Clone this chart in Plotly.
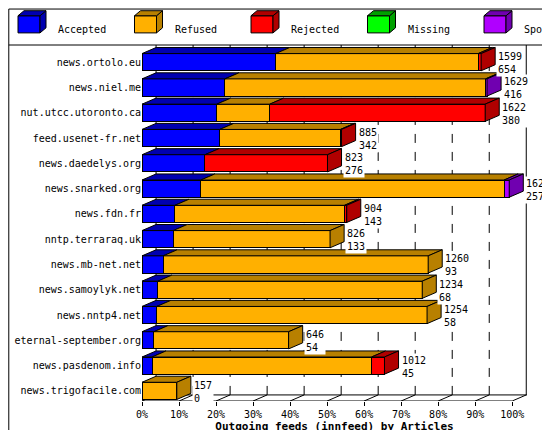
import plotly.graph_objects as go

hosts = ['news.ortolo.eu', 'news.niel.me', 'nut.utcc.utoronto.ca', 'feed.usenet-fr.net',
         'news.daedelys.org', 'news.snarked.org', 'news.fdn.fr', 'nntp.terraraq.uk',
         'news.mb-net.net', 'news.samoylyk.net', 'news.nntp4.net', 'eternal-september.org',
         'news.pasdenom.info', 'news.trigofacile.com']
# segment widths in % of the axis
accepted = [36.1, 22.4, 20.2, 21.0, 17.0, 15.9, 8.9, 8.4, 5.7, 4.3, 4.0, 3.2, 2.7, 0]
refused = [54.7, 70.4, 14.3, 32.6, 0, 81.9, 45.8, 42.4, 71.6, 71.4, 73.0, 36.4, 59.3, 9.4]
rejected = [0.8, 0, 58.2, 0.3, 33.1, 0, 0.6, 0, 0, 0, 0, 0, 3.5, 0]
missing = [0] * 14
spooled = [0, 0.4, 0, 0, 0, 1.4, 0, 0, 0, 0, 0, 0, 0, 0]
total = [1599, 1629, 1622, 885, 823, 1620, 904, 826, 1260, 1234, 1254, 646, 1012, 157]
n_acc = [654, 416, 380, 342, 276, 257, 143, 133, 93, 68, 58, 54, 45, 0]

series = [('Accepted', accepted, '#0000ff', '#0000b0'),
          ('Refused', refused, '#ffb000', '#b88000'),
          ('Rejected', rejected, '#ff0000', '#b00000'),
          ('Missing', missing, '#00ff00', '#00a000'),
          ('Spooled', spooled, '#b000ff', '#7000b0')]

DX, DY, H = 3.8, 0.24, 0.34
FONT = 'DejaVu Sans Mono'
ypos = list(range(len(hosts)))

fig = go.Figure()
shapes = []
for name, vals, col, dark in series:
    fig.add_trace(go.Bar(y=ypos, x=vals, orientation='h', name=name, width=2 * H,
                         marker=dict(color=col, line=dict(color='black', width=1))))

# 3d faces, built from the data
for i in ypos:
    start = 0
    last_dark = None
    for name, vals, col, dark in series:
        w = vals[i]
        if w <= 0:
            continue
        x0, x1 = start, start + w
        yt = i - H
        shapes.append(dict(type='path', xref='x', yref='y', fillcolor=dark,
                           line=dict(color='black', width=1),
                           path=f'M{x0},{yt} L{x1},{yt} L{x1+DX},{yt-DY} L{x0+DX},{yt-DY} Z'))
        start = x1
        last_dark = dark
    if last_dark:
        shapes.append(dict(type='path', xref='x', yref='y', fillcolor=last_dark,
                           line=dict(color='black', width=1),
                           path=f'M{start},{i-H} L{start},{i+H} L{start+DX},{i+H-DY} L{start+DX},{i-H-DY} Z'))
    fig.add_annotation(x=start + DX, y=i, text=f'{total[i]}<br>{n_acc[i]}', xanchor='left',
                       showarrow=False, xshift=1, yshift=-1, align='left', bgcolor='white',
                       font=dict(family=FONT, size=10, color='black'))

# back grid lines and walls
ybot = len(hosts) - 1 + 0.4
for p in range(10, 100, 10):
    shapes.append(dict(type='line', xref='x', yref='y', x0=p + DX, x1=p + DX, y0=ybot - DY, y1=-0.7,
                       line=dict(color='black', width=1, dash='dash'), layer='below'))
    shapes.append(dict(type='line', xref='x', yref='y', x0=p, x1=p + DX, y0=ybot, y1=ybot - DY,
                       line=dict(color='black', width=1), layer='below'))
for p in (0, 100):
    shapes.append(dict(type='line', xref='x', yref='y', x0=p + DX, x1=p + DX, y0=ybot - DY, y1=-0.7,
                       line=dict(color='black', width=1), layer='below'))
    shapes.append(dict(type='line', xref='x', yref='y', x0=p, x1=p + DX, y0=ybot, y1=ybot - DY,
                       line=dict(color='black', width=1), layer='below'))
shapes.append(dict(type='line', xref='x', yref='y', x0=DX, x1=108, y0=ybot - DY, y1=ybot - DY,
                   line=dict(color='black', width=1), layer='below'))

# legend boxes at top
shapes.append(dict(type='line', xref='paper', yref='paper', x0=-0.346, x1=1.077, y0=1.0, y1=1.0,
                   line=dict(color='black', width=1)))
for k, (name, vals, col, dark) in enumerate(series):
    x0 = (10 + 116.5 * k - 134) / 385
    w, h = 22 / 385, 17 / 353
    y0 = (393 - 28) / 353
    dx, dy = 6 / 385, 5 / 353
    shapes.append(dict(type='rect', xref='paper', yref='paper', x0=x0, x1=x0 + w, y0=y0, y1=y0 + h,
                       fillcolor=col, line=dict(color='black', width=1)))
    shapes.append(dict(type='path', xref='paper', yref='paper', fillcolor=dark,
                       line=dict(color='black', width=1),
                       path=f'M{x0+w},{y0} L{x0+w+dx},{y0+dy} L{x0+w+dx},{y0+h+dy} L{x0+w},{y0+h} Z'))
    shapes.append(dict(type='path', xref='paper', yref='paper', fillcolor=dark,
                       line=dict(color='black', width=1),
                       path=f'M{x0},{y0+h} L{x0+w},{y0+h} L{x0+w+dx},{y0+h+dy} L{x0+dx},{y0+h+dy} Z'))
    fig.add_annotation(xref='paper', yref='paper', x=x0 + w + dx + 10 / 385, y=y0 + h / 2 + 2 / 353,
                       text=name, showarrow=False, xanchor='left',
                       font=dict(family=FONT, size=10, color='black'))

fig.update_layout(
    width=550, height=430, barmode='stack', showlegend=False,
    plot_bgcolor='white', paper_bgcolor='white',
    margin=dict(l=134, r=31, t=37, b=37),
    shapes=shapes,
    xaxis=dict(range=[0, 104], tickvals=list(range(0, 101, 10)), automargin=False,
               ticktext=[f'{p}%' for p in range(0, 101, 10)], showgrid=False,
               zeroline=False, showline=False, ticks='outside', ticklen=4, tickcolor='black',
               tickfont=dict(family=FONT, size=10, color='black'),
               title=dict(text='<b>Outgoing feeds (innfeed) by Articles</b>', standoff=0,
                          font=dict(family=FONT, size=11, color='black'))),
    yaxis=dict(range=[ybot, -0.68], tickvals=ypos, ticktext=hosts, showgrid=False, automargin=False,
               zeroline=False, showline=False, ticks='', ticksuffix=' ',
               tickfont=dict(family=FONT, size=10, color='black')),
)
fig.add_shape(type='line', xref='x', yref='y', x0=0, x1=100, y0=ybot, y1=ybot,
              line=dict(color='black', width=1))
fig.add_shape(type='rect', xref='paper', yref='paper', x0=-0.346, x1=1.077, y0=-0.103, y1=1.101,
              line=dict(color='black', width=1))
fig.write_html('out.html')
